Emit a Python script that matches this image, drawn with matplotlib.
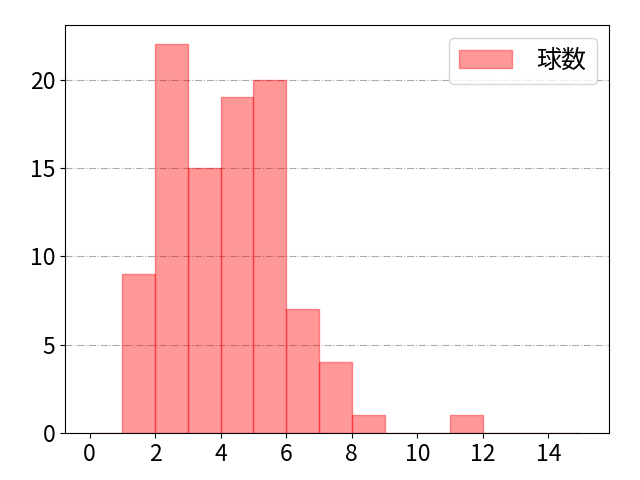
import matplotlib
matplotlib.use("Agg")
import matplotlib.pyplot as plt

plt.rcParams['font.family'] = ['Noto Sans CJK JP', 'DejaVu Sans']

bin_left = [0, 1, 2, 3, 4, 5, 6, 7, 8, 9, 10, 11, 12, 13, 14]
counts = [0, 9, 22, 15, 19, 20, 7, 4, 1, 0, 0, 1, 0, 0, 0]
label = "球数"

fig = plt.figure(figsize=(6.4, 4.8), dpi=100)
ax = fig.add_axes([65/640, 47/480, 544/640, 408/480])
ax.bar(bin_left, counts, width=1, align='edge', color='#ff0000', alpha=0.4,
       edgecolor='#ff0000', linewidth=1, label=label, zorder=2)
ax.grid(axis='y', linestyle='-.', color='#aaaaaa', linewidth=0.8, zorder=0)
ax.set_axisbelow(True)
ax.set_xlim(-0.75, 15.85)
ax.set_xticks([0, 2, 4, 6, 8, 10, 12, 14])
ax.set_yticks([0, 5, 10, 15, 20])
ax.tick_params(labelsize=16.5)
ax.legend(fontsize=18, loc='upper right', handlelength=2.1, handletextpad=1.0)
fig.savefig("out.png")
